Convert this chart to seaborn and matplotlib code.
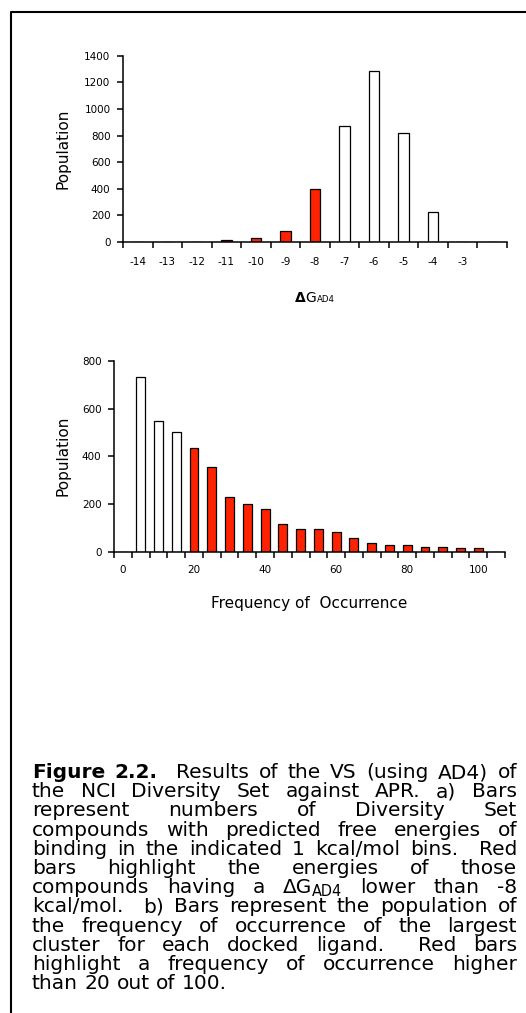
import re

import numpy as np
import pandas as pd
import matplotlib

matplotlib.use("Agg")
import matplotlib.pyplot as plt
from matplotlib.lines import Line2D
import seaborn as sns

W, H = 526, 1013

# a) docked free energies, 1 kcal/mol bins
dg_bins = ["-14", "-13", "-12", "-11", "-10", "-9", "-8", "-7", "-6", "-5", "-4", "-3", "-2"]
dg_population = [0, 0, 0, 12, 33, 80, 398, 872, 1285, 820, 225, 0, 0]
dg_tick_labels = ["-14", "-13", "-12", "-11", "-10", "-9", "-8", "-7", "-6", "-5", "-4", "-3", ""]

# b) frequency of occurrence of the largest cluster
freq_bins = ["0", "5", "10", "15", "20", "25", "30", "35", "40", "45", "50",
             "55", "60", "65", "70", "75", "80", "85", "90", "95", "100", "105"]
freq_population = [0, 730, 548, 503, 436, 356, 230, 200, 178, 119, 97,
                   96, 84, 60, 39, 31, 30, 23, 22, 16, 15, 0]
freq_tick_labels = ["0", "20", "40", "60", "80", "100"]

caption_lines = [
    "**Figure 2.2.**  Results of the VS (using AD4) of",
    "the NCI Diversity Set against APR. a) Bars",
    "represent numbers of Diversity Set",
    "compounds with predicted free energies of",
    "binding in the indicated 1 kcal/mol bins.  Red",
    "bars highlight the energies of those",
    "compounds having a \u0394G_{AD4} lower than -8",
    "kcal/mol.  b) Bars represent the population of",
    "the frequency of occurrence of the largest",
    "cluster for each docked ligand.  Red bars",
    "highlight a frequency of occurrence higher",
    "than 20 out of 100.",
]

RED = "#ff2200"

sns.set_style("white")
plt.rcParams["font.family"] = ["DejaVu Sans"]
plt.rcParams["text.color"] = "black"
plt.rcParams["axes.labelcolor"] = "black"
plt.rcParams["xtick.color"] = "black"
plt.rcParams["ytick.color"] = "black"


def fx(px):
    return px / W


def fy(py):
    return 1 - py / H


fig = plt.figure(figsize=(W / 100, H / 100), dpi=100)
renderer = fig.canvas.get_renderer()

ax_a = fig.add_axes([fx(123), fy(242), (507 - 123) / W, (242 - 55.7) / H])
ax_b = fig.add_axes([fx(114), fy(552), (505 - 114) / W, (552 - 360.7) / H])

df_a = pd.DataFrame({"bin": dg_bins, "population": dg_population})
df_a["group"] = ["red" if int(b) <= -8 else "white" for b in dg_bins]
sns.barplot(data=df_a, x="bin", y="population", hue="group", order=dg_bins,
            palette={"red": RED, "white": "white"}, saturation=1, dodge=False, width=0.36,
            edgecolor="black", linewidth=0.9, legend=False, ax=ax_a)

df_b = pd.DataFrame({"bin": freq_bins, "population": freq_population})
df_b["group"] = ["red" if int(b) >= 20 else "white" for b in freq_bins]
sns.barplot(data=df_b, x="bin", y="population", hue="group", order=freq_bins,
            palette={"red": RED, "white": "white"}, saturation=1, dodge=False, width=0.5,
            edgecolor="black", linewidth=0.9, legend=False, ax=ax_b)


def style_axes(ax, n, ymax, ystep, label_pos, labels, xpad, ypad):
    ax.set_xlim(-0.5, n - 0.5)
    ax.set_ylim(0, ymax)
    ax.set_yticks(np.arange(0, ymax + 1, ystep))
    ax.set_xticks(label_pos)
    ax.set_xticklabels(labels)
    ax.set_xticks(np.arange(-0.5, n), minor=True)
    ax.tick_params(axis="x", which="major", length=0, pad=xpad, labelsize=7.5)
    ax.tick_params(axis="x", which="minor", length=4, width=1.1, direction="out", bottom=True)
    ax.tick_params(axis="y", length=4, width=1.1, direction="out", pad=ypad, labelsize=7.5, left=True)
    for side in ["top", "right"]:
        ax.spines[side].set_visible(False)
    for side in ["left", "bottom"]:
        ax.spines[side].set_linewidth(1.1)
        ax.spines[side].set_color("black")
    ax.set_xlabel("")
    ax.set_ylabel("")
    ax.patch.set_alpha(0)


style_axes(ax_a, len(dg_bins), 1400, 200, range(len(dg_bins)), dg_tick_labels, 11, 5)
style_axes(ax_b, len(freq_bins), 800, 200, [freq_bins.index(t) for t in freq_tick_labels],
           freq_tick_labels, 9.5, 5)

fig.text(fx(63), fy(149), "Population", rotation=90, ha="center", va="center", fontsize=11)
fig.text(fx(63), fy(456), "Population", rotation=90, ha="center", va="center", fontsize=11)
fig.text(fx(309), fy(603), "Frequency of  Occurrence", ha="center", va="center", fontsize=11)


# text runs: lists of (text, bold, sub, kern) pieces
def make_word(pieces, size, sub_scale):
    arts = []
    for text, bold, sub, *rest in pieces:
        kern = rest[0] if rest else 0
        t = fig.text(0, 0, text, fontsize=size * (sub_scale if sub else 1),
                     fontweight="bold" if bold else "normal", ha="left", va="baseline")
        arts.append((t, sub, t.get_window_extent(renderer).width + kern))
    return arts


def put_word(arts, x, y, sub_dy):
    for t, sub, w in arts:
        t.set_position((fx(x), fy(y + (sub_dy if sub else 0))))
        x += w


# x label of panel a
xl = make_word([("\u0394", True, False, 0), ("G", False, False, 1), ("AD4", False, True)], 10, 0.62)
put_word(xl, 315 - sum(a[2] for a in xl) / 2, 302, 0)


def parse_line(line):
    words, gaps = [], []
    bold = False
    for tok in re.split(r"( +)", line):
        if tok.startswith(" "):
            gaps.append(len(tok))
            continue
        if tok.startswith("**"):
            bold, tok = True, tok[2:]
        end_bold = tok.endswith("**")
        if end_bold:
            tok = tok[:-2]
        if "_{" in tok:
            base, sub = tok.split("_{")
            words.append([(base, bold, False), (sub.rstrip("}"), bold, True)])
        else:
            words.append([(tok, bold, False)])
        if end_bold:
            bold = False
    return words, gaps


cap_size = 14.5
probe_a = fig.text(0, 0, "x x", fontsize=cap_size)
probe_b = fig.text(0, 0, "xx", fontsize=cap_size)
space_w = probe_a.get_window_extent(renderer).width - probe_b.get_window_extent(renderer).width
probe_a.remove()
probe_b.remove()

left, right = 32, 517
y0, pitch = 778, 19.2
for i, line in enumerate(caption_lines):
    words, gaps = parse_line(line)
    arts = [make_word(w, cap_size, 0.72) for w in words]
    widths = [sum(a[2] for a in w) for w in arts]
    if i < len(caption_lines) - 1:
        unit = (right - left - sum(widths)) / sum(gaps)
    else:
        unit = space_w
    x = left
    for k, w in enumerate(arts):
        put_word(w, x, y0 + i * pitch, 3)
        x += widths[k] + (gaps[k] * unit if k < len(gaps) else 0)

# page frame (left and top edges)
fig.add_artist(Line2D([fx(11), fx(11), fx(526)], [fy(1013), fy(12), fy(12)],
                      color="black", linewidth=1.5, transform=fig.transFigure))

fig.savefig("out.png", dpi=100)
